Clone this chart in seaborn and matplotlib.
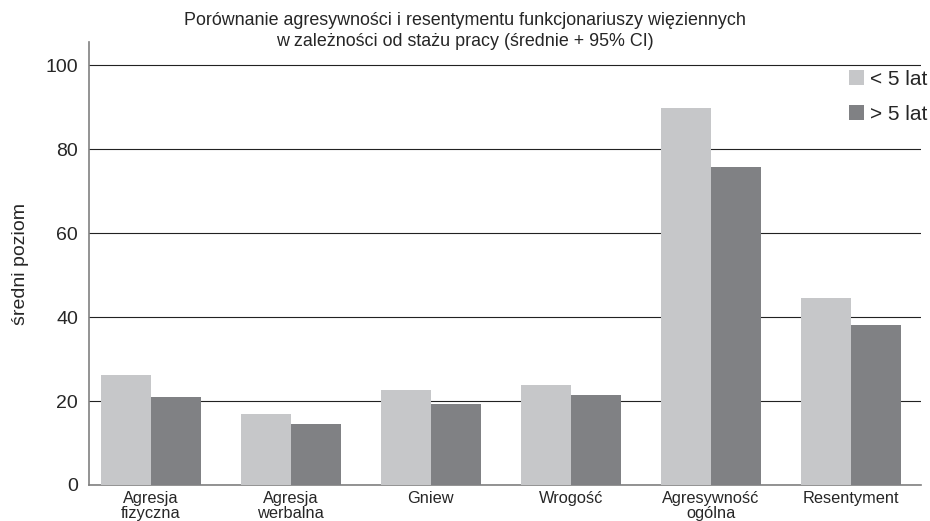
import pandas as pd
import matplotlib
matplotlib.use('Agg')
import matplotlib.pyplot as plt
import seaborn as sns

# values
categories = ['Agresja\nfizyczna', 'Agresja\nwerbalna', 'Gniew', 'Wrogość',
              'Agresywność\nogólna', 'Resentyment']
under_5 = [26.2, 16.9, 22.6, 23.8, 89.8, 44.5]
over_5 = [20.9, 14.5, 19.4, 21.4, 75.7, 38.1]
groups = ['< 5 lat', '> 5 lat']
colors = ['#c6c7c9', '#808184']

df = pd.DataFrame({
    'kategoria': categories * 2,
    'staz': [groups[0]] * len(categories) + [groups[1]] * len(categories),
    'wartosc': under_5 + over_5,
})

sns.set_style('white')
plt.rcParams['font.family'] = ['Liberation Sans', 'DejaVu Sans']

fig = plt.figure(figsize=(9.3, 5.21), dpi=100)
ax = fig.add_axes([0.0957, 0.0691, 0.8943, 0.8500])

sns.barplot(data=df, x='kategoria', y='wartosc', hue='staz',
            palette=dict(zip(groups, colors)), width=0.714,
            saturation=1, linewidth=0, ax=ax, zorder=3)

ax.set_xlim(-0.44, 5.5)
ax.set_ylim(0, 105.5)
ax.set_yticks([0, 20, 40, 60, 80, 100])
ax.yaxis.grid(True, color='#222222', linewidth=0.8, zorder=0)
ax.set_axisbelow(True)
ax.tick_params(axis='both', length=0)
ax.tick_params(axis='y', labelsize=14, pad=8)
ax.tick_params(axis='x', labelsize=11.8, pad=4.5)
for lab in ax.get_xticklabels():
    lab.set_linespacing(0.98)

for s in ['top', 'right']:
    ax.spines[s].set_visible(False)
for s in ['left', 'bottom']:
    ax.spines[s].set_color('#808080')
    ax.spines[s].set_linewidth(1.2)

ax.set_xlabel('')
ax.set_ylabel('średni poziom', fontsize=14, labelpad=12)

fig.suptitle('Porównanie agresywności i resentymentu funkcjonariuszy więziennych\n'
             'w zależności od stażu pracy (średnie + 95% CI)',
             fontsize=12.9, y=0.977, linespacing=1.28)

handles, labels = ax.get_legend_handles_labels()
ax.legend(handles, labels, loc='upper right', bbox_to_anchor=(1.018, 0.957),
          frameon=False, fontsize=15, handlelength=0.72, handleheight=0.72,
          handletextpad=0.3, labelspacing=0.8, borderaxespad=0)

fig.savefig('out.png', dpi=100)
